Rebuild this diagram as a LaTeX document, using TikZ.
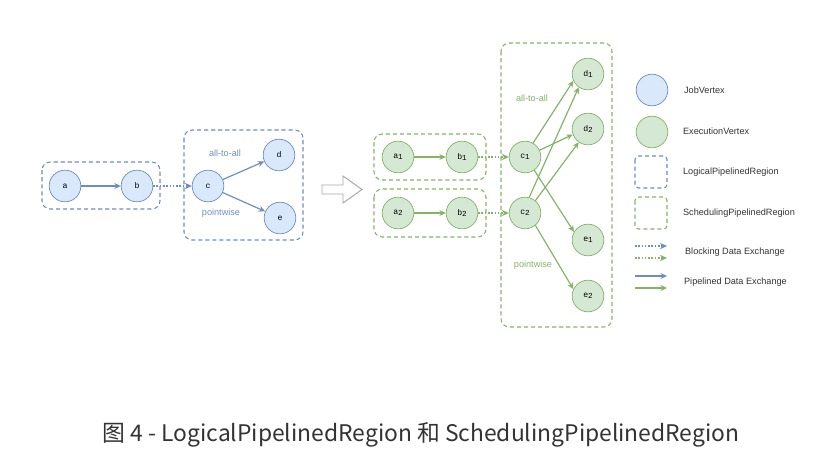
\documentclass[tikz,border=0pt]{standalone}
\usepackage{fontspec}
\setmainfont{Liberation Sans}
\setmonofont{Liberation Mono}
\newfontfamily\cjkfont{Noto Sans CJK SC}
\usepackage{xcolor}
\usetikzlibrary{arrows.meta}
\definecolor{jobfill}{HTML}{DAE8FC}
\definecolor{jobline}{HTML}{6C8EBF}
\definecolor{exefill}{HTML}{D5E8D4}
\definecolor{exeline}{HTML}{82B366}
\definecolor{legtext}{HTML}{333333}
\newcommand{\vsub}[1]{\raisebox{-0.35ex}{\fontsize{6.5}{7}\selectfont#1}}
\tikzset{
  vertex/.style={circle, minimum size=27pt, inner sep=0pt, line width=0.6pt,
    font=\ttfamily\fontsize{7}{8}\selectfont},
  jobv/.style={vertex, draw=jobline, fill=jobfill},
  exev/.style={vertex, draw=exeline, fill=exefill},
  region/.style={line width=0.9pt, rounded corners=7pt, dash pattern=on 3.5pt off 2.5pt},
  jobregion/.style={region, draw=jobline},
  exeregion/.style={region, draw=exeline},
  pipe/.style={line width=1pt, -{Stealth[length=5.5pt,width=5pt]}},
  block/.style={line width=1.5pt, dash pattern=on 1.4pt off 1.4pt,
    -{Stealth[length=6pt,width=5.5pt,line width=0pt]}},
  edgelabel/.style={font=\fontsize{7.8}{9}\selectfont},
  legend/.style={anchor=west, text=legtext, font=\fontsize{7.8}{9}\selectfont}
}

\begin{document}
\begin{tikzpicture}[x=0.03cm, y=-0.03cm]
    \useasboundingbox (0,0) rectangle (823,473);
    % logical region (job graph)
    \node[jobv] (a) at (65,186) {a};
    \node[jobv] (b) at (137,186) {b};
    \node[jobv] (c) at (208,186) {c};
    \node[jobv] (d) at (279,155) {d};
    \node[jobv] (e) at (280,218) {e};
    \draw[jobregion] (42,162) rectangle (160,209);
    \draw[jobregion] (184,130) rectangle (303,240);
    \draw[pipe, jobline] (a) -- (b);
    \draw[block, jobline] (b) -- (c);
    \draw[pipe, jobline] (c) -- (d);
    \draw[pipe, jobline] (c) -- (e);
    \node[edgelabel, text=jobline] (ata) at (225,153) {all-to-all};
    \node[edgelabel, text=jobline] (pw) at (221,213) {pointwise};

    % hollow arrow
    \draw[gray!70, line width=0.8pt, line join=miter]
        (322,185) -- (343,185) -- (343,176) -- (362,189.5) -- (343,203) -- (343,194) -- (322,194) -- cycle;

    % scheduling regions (execution graph)
    \node[exev] (a1) at (398,157) {a\vsub{1}};
    \node[exev] (b1) at (462,157) {b\vsub{1}};
    \node[exev] (c1) at (525,157) {c\vsub{1}};
    \node[exev] (a2) at (398,213) {a\vsub{2}};
    \node[exev] (b2) at (462,213) {b\vsub{2}};
    \node[exev] (c2) at (525,213) {c\vsub{2}};
    \node[exev] (d1) at (588,74) {d\vsub{1}};
    \node[exev] (d2) at (588,129) {d\vsub{2}};
    \node[exev] (e1) at (588,240) {e\vsub{1}};
    \node[exev] (e2) at (588,296) {e\vsub{2}};
    \draw[exeregion] (374,134) rectangle (486,180);
    \draw[exeregion] (374,189) rectangle (486,237);
    \draw[exeregion] (501,43) rectangle (612,327);
    \draw[pipe, exeline] (a1) -- (b1);
    \draw[pipe, exeline] (a2) -- (b2);
    \draw[block, exeline] (b1) -- (c1);
    \draw[block, exeline] (b2) -- (c2);
    \draw[pipe, exeline] (c1.60) -- (d1.205);
    \draw[pipe, exeline] (c1.25) -- (d2.200);
    \draw[pipe, exeline] (c1.-55) -- (e1.150);
    \draw[pipe, exeline] (c2.75) -- (d1.235);
    \draw[pipe, exeline] (c2.50) -- (d2.235);
    \draw[pipe, exeline] (c2.-50) -- (e2.155);
    \node[edgelabel, text=exeline] (ata2) at (532,98) {all-to-all};
    \node[edgelabel, text=exeline] (pw2) at (533,265) {pointwise};

    % legend
    \node[jobv] (ljob) at (652,90) {};
    \node[legend] (tjob) at (680,90) {JobVertex};
    \node[exev] (lexe) at (652,132) {};
    \node[legend] (texe) at (679,131) {ExecutionVertex};
    \draw[jobregion, rounded corners=3pt] (635,156) rectangle (667,188);
    \node[legend] (tlog) at (679,172) {LogicalPipelinedRegion};
    \draw[exeregion, rounded corners=3pt] (635,197) rectangle (667,229);
    \node[legend] (tsch) at (679,213) {SchedulingPipelinedRegion};
    \coordinate (bj0) at (635,246); \coordinate (bj1) at (667,246);
    \coordinate (be0) at (635,258); \coordinate (be1) at (667,258);
    \draw[block, jobline] (bj0) -- (bj1);
    \draw[block, exeline] (be0) -- (be1);
    \node[legend] (tblk) at (681,252) {Blocking Data Exchange};
    \coordinate (pj0) at (635,276); \coordinate (pj1) at (667,276);
    \coordinate (pe0) at (635,288); \coordinate (pe1) at (667,288);
    \draw[pipe, jobline] (pj0) -- (pj1);
    \draw[pipe, exeline] (pe0) -- (pe1);
    \node[legend] (tpip) at (680,282) {Pipelined Data Exchange};

    % caption
    \node[text=legtext, font=\cjkfont\fontsize{19.5}{23}\selectfont] (cap) at (421,435)
        {图 4 - LogicalPipelinedRegion 和 SchedulingPipelinedRegion};
\end{tikzpicture}
\end{document}
